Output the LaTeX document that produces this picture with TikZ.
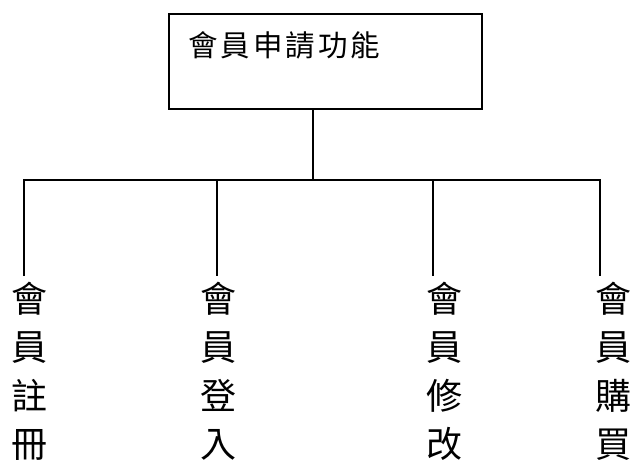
\documentclass[tikz,border=0pt]{standalone}
\usepackage{fontspec}
\newfontfamily\cjk{Noto Sans CJK TC}
\newfontfamily\cjkwide{Noto Sans CJK TC}[LetterSpace=10]
\begin{document}
\begin{tikzpicture}[x=1pt,y=-1pt,
  conn/.style={line width=1.7pt, line join=miter},
  boxstyle/.style={draw, line width=2pt, inner sep=0pt, anchor=north west},
  titletext/.style={anchor=base west, inner sep=0pt, font=\cjkwide\fontsize{29.5}{29.5}\selectfont},
  chartext/.style={anchor=base west, inner sep=0pt, font=\cjk\fontsize{36}{36}\selectfont}]
\useasboundingbox (0,0) rectangle (635,461);
\fill[white] (0,0) rectangle (635,461);
% top box
\node[boxstyle, minimum width=312.7pt, minimum height=95.3pt] (top) at (168,12.7) {};
\node[titletext] (title) at (188,56) {會員申請功能};
% junction coordinates
\coordinate (stem) at (312.7,108);
\coordinate (j) at (312.7,180);
\coordinate (d1) at (24.3,180);
\coordinate (d2) at (216.7,180);
\coordinate (d3) at (432.7,180);
\coordinate (d4) at (600,180);
\coordinate (e1) at (24.3,276);
\coordinate (e2) at (216.7,276);
\coordinate (e3) at (432.7,276);
\coordinate (e4) at (600,276);
\draw[conn] (stem) -- (j);
\draw[conn] (e1) -- (d1) -- (d4) -- (e4);
\draw[conn] (d2) -- (e2);
\draw[conn] (d3) -- (e3);
% vertical labels
\foreach \col/\x/\a/\b/\c/\d in {1/11.5/會/員/註/冊, 2/200.5/會/員/登/入, 3/426.5/會/員/修/改, 4/595.5/會/員/購/買}{
  \node[chartext] (c\col r1) at (\x,312.5) {\a};
  \node[chartext] (c\col r2) at (\x,360.8) {\b};
  \node[chartext] (c\col r3) at (\x,409.1) {\c};
  \node[chartext] (c\col r4) at (\x,457.4) {\d};
}
\end{tikzpicture}
\end{document}
